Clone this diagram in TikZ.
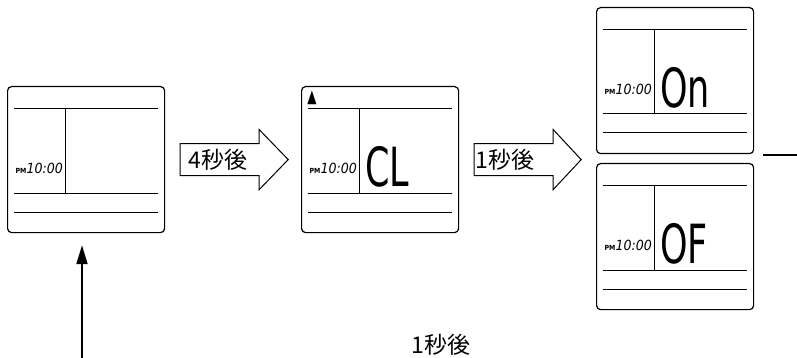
\documentclass[tikz,border=0pt]{standalone}
\usepackage{fontspec}
\newfontfamily\jpfont{Noto Sans CJK JP}
\newfontfamily\segfont{DejaVu Sans Condensed}
\newfontfamily\symfont{DejaVu Sans}
\usetikzlibrary{arrows.meta,calc}
\tikzset{
    panel/.style={draw, line width=1.2pt, rounded corners=4pt, minimum width=157pt,
                  minimum height=146pt, inner sep=0pt, anchor=north west},
    rule/.style={line width=1pt},
    clock/.style={anchor=east, inner sep=0pt},
    bigseg/.style={anchor=west, inner sep=0pt},
    alarm/.style={inner sep=0pt, font=\symfont\fontsize{15}{15}\selectfont},
    blockarrow/.style={draw, line width=1pt, line join=miter},
    wait/.style={inner sep=0pt, font=\jpfont\fontsize{23}{23}\selectfont}
}
% one display panel: name, x, y, big text
\newcommand\lcd[4]{%
  \node [panel] (#1) at (#2,#3) {};
  \begin{scope}[shift={(#2,#3)}]
    \draw [rule] (7,23) -- (151,23);
    \draw [rule] (58.5,23) -- (58.5,107);
    \draw [rule] (7,107) -- (151,107);
    \draw [rule] (7,126) -- (151,126);
    \node [clock] (#1-time) at (56,82)
      {{\segfont\bfseries\fontsize{7}{7}\selectfont PM}{\segfont\itshape\fontsize{14}{14}\selectfont 10:00}};
    \node [bigseg] (#1-mode) at (64,81)
      {\scalebox{0.72}[1]{\segfont\fontsize{54}{54}\selectfont #4}};
  \end{scope}
}

\begin{document}
\begin{tikzpicture}
  [
    x = 1pt,
    y = -1pt,
  ]
  \useasboundingbox (0,0) rectangle (797,358);

  \lcd{now}{7}{86}{}
  \lcd{clear}{301}{86}{CL}
  \lcd{on}{596}{7}{On}
  \lcd{off}{596}{163}{OF}
  \node [alarm] (clear-mark) at (312,98) {\scalebox{0.8}[1.2]{▲}};

  % timed steps
  \draw [blockarrow] ($(now.east)+(15,-16)$) -- ++(79,0) -- ++(0,-14) -- ++(29,30)
    -- ++(-29,30) -- ++(0,-14) -- ++(-79,0) -- cycle;
  \node [wait, anchor=west] (four) at ($(now.east)+(23,0)$) {4秒後};
  \draw [blockarrow] ($(clear.east)+(15,-16)$) -- ++(79,0) -- ++(0,-14) -- ++(28,30)
    -- ++(-28,30) -- ++(0,-14) -- ++(-79,0) -- cycle;
  \node [wait, anchor=west] (one) at ($(clear.east)+(16,0)$) {1秒後};

  \coordinate (start) at (82,358);
  \coordinate (exit) at (797,155);
  \coordinate (split) at (763,155);
  \draw [-{Triangle[length=19pt,width=11pt]}, line width=2pt, shorten >=12pt]
    (start) -- (start |- now.south);
  \draw [line width=1.5pt] (split) -- (exit);
  \node [wait] (back) at (441,345) {1秒後};
\end{tikzpicture}
\end{document}
